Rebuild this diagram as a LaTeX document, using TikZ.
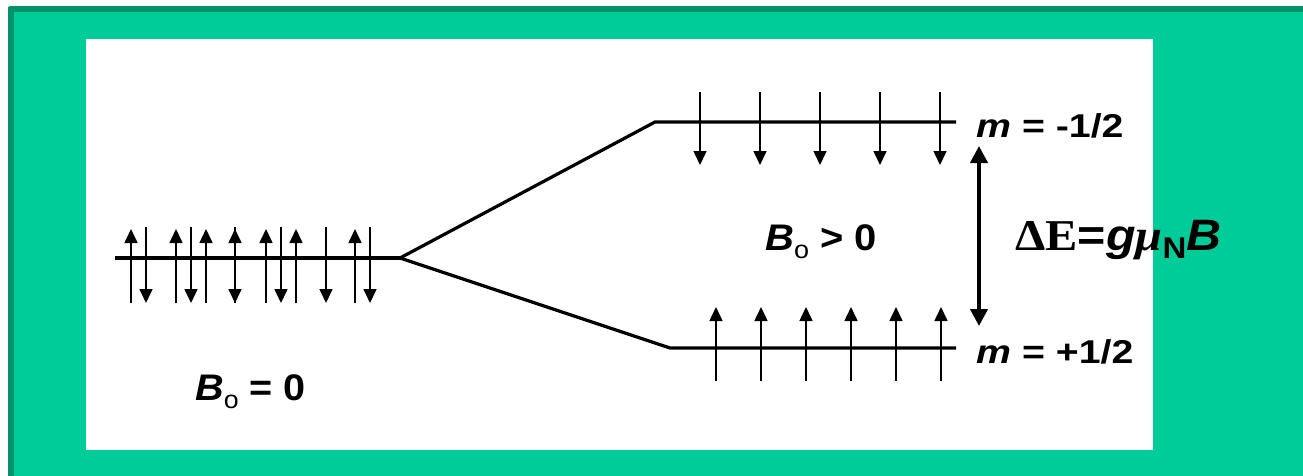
\documentclass[tikz,border=0pt]{standalone}
\usepackage{fontspec}
\setmainfont{Liberation Sans}
\newfontfamily\tms{Liberation Serif}
\usetikzlibrary{arrows.meta}
\definecolor{bggreen}{RGB}{0,204,153}
\definecolor{darkgreen}{RGB}{0,146,104}
\tikzset{
  level/.style={line width=3.2pt, black},
  spinup/.style={line width=1.6pt, -{Triangle[width=13pt,length=14pt]}},
  bigarrow/.style={line width=4pt, {Triangle[width=17pt,length=17pt]}-{Triangle[width=17pt,length=17pt]}},
  lbl/.style={inner sep=0pt, anchor=base west, font=\bfseries},
}
\newcommand{\subo}{\raisebox{-8pt}{\fontsize{25}{25}\selectfont\mdseries o}}
\begin{document}
\begin{tikzpicture}[x=1pt,y=-1pt]
\useasboundingbox (0,0) rectangle (1303,475);
\fill[white] (0,0) rectangle (1303,475);
\fill[darkgreen, rounded corners=2pt] (8,6) rectangle (1320,490);
\fill[bggreen] (14,12) rectangle (1320,490);
\fill[white] (86,39) rectangle (1153,450);
% levels
\coordinate (L0) at (115,258);
\coordinate (S) at (400,258);
\coordinate (U1) at (655,122);
\coordinate (U2) at (956,122);
\coordinate (D1) at (670,348);
\coordinate (D2) at (956,348);
\draw[level] (L0) -- (S);
\draw[level, line join=miter] (S) -- (U1) -- (U2);
\draw[level, line join=miter] (S) -- (D1) -- (D2);
% left spins
\foreach \x in {131,176,206,235,266,296,355} \draw[spinup] (\x,303) -- (\x,229);
\foreach \x in {146,191,235,281,326,370} \draw[spinup] (\x,227) -- (\x,303);
% upper spins (down)
\foreach \x in {700,760,820,880,940} \draw[spinup] (\x,92) -- (\x,165);
% lower spins (up)
\foreach \x in {716,761,806,851,896,941} \draw[spinup] (\x,381) -- (\x,307);
% energy gap
\coordinate (GT) at (979,146);
\coordinate (GB) at (979,326);
\draw[bigarrow] (GT) -- (GB);
% labels
\node[lbl, font=\fontsize{33}{33}\selectfont\bfseries] (mtop) at (976,137) {\scalebox{1.19}[1]{\textit{m} = -1/2}};
\node[lbl, font=\fontsize{33}{33}\selectfont\bfseries] (mbot) at (976,363) {\scalebox{1.19}[1]{\textit{m} = +1/2}};
\node[lbl, font=\fontsize{37}{37}\selectfont\bfseries] (bpos) at (765,250) {\scalebox{1.08}[1]{\textit{B}\subo{} {>} 0}};
\node[lbl, font=\fontsize{37}{37}\selectfont\bfseries] (bzero) at (195,400) {\scalebox{1.07}[1]{\textit{B}\subo{} = 0}};
\node[lbl, font=\fontsize{44}{44}\selectfont\bfseries] (de) at (1015,250) {\scalebox{1.1}[1]{{\tms ΔE}=\textit{g}{\tms\itshape μ}\raisebox{-8pt}{\fontsize{30}{30}\selectfont N}\textit{B}}};
\end{tikzpicture}
\end{document}
